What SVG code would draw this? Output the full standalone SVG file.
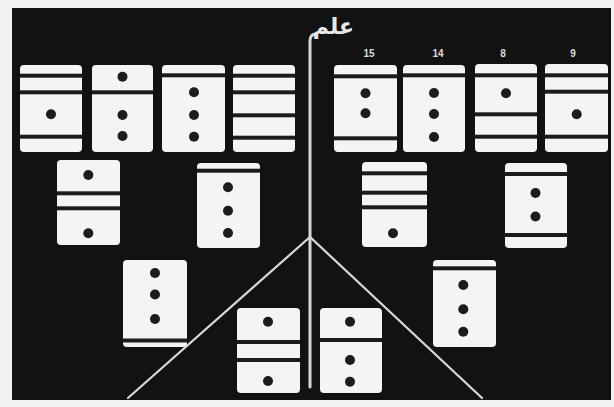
<svg xmlns="http://www.w3.org/2000/svg" width="614" height="407" viewBox="0 0 614 407">
<style>
.bg{fill:#121212}
.tile{fill:#f4f4f4}
.bar{fill:#1c1c1c}
.dot{fill:#1c1c1c}
.ln{stroke:#d8d8d8;fill:none;stroke-linecap:round}
.num{fill:#dcdcdc;font-family:"Liberation Sans",Arial,sans-serif;font-size:10px;font-weight:bold;text-anchor:middle}
.ar{fill:#e8e8e8;font-family:"DejaVu Sans",sans-serif;font-size:22px;font-weight:bold;text-anchor:end}
</style>
<rect x="0" y="0" width="614" height="407" fill="#f2f2f2"/>
<rect class="bg" x="12" y="8" width="599" height="392"/>
<g id="connectors">
<path class="ln" d="M310,387 V41 Q310,34 316,34" stroke-width="3"/>
<path class="ln" d="M128,398 L310,237 L482,398" stroke-width="2.2"/>
</g>
<text class="ar" x="354" y="34">علم</text>
<g id="t1"><rect class="tile" x="20" y="65" width="62" height="87" rx="4"/><rect class="bar" x="20" y="73.7" width="62" height="4"/><rect class="bar" x="20" y="90.3" width="62" height="4"/><circle class="dot" cx="51" cy="114.3" r="5"/><rect class="bar" x="20" y="134.7" width="62" height="4"/></g>
<g id="t2"><rect class="tile" x="92" y="65" width="61" height="87" rx="4"/><circle class="dot" cx="122.5" cy="76.7" r="5"/><rect class="bar" x="92" y="90.3" width="61" height="4"/><circle class="dot" cx="122.5" cy="115" r="5"/><circle class="dot" cx="122.5" cy="136" r="5"/></g>
<g id="t3"><rect class="tile" x="162" y="65" width="63" height="87" rx="4"/><rect class="bar" x="162" y="73.3" width="63" height="4"/><circle class="dot" cx="194" cy="92.3" r="5"/><circle class="dot" cx="194" cy="115" r="5"/><circle class="dot" cx="194" cy="136.7" r="5"/></g>
<g id="t4"><rect class="tile" x="233" y="65" width="62" height="87" rx="4"/><rect class="bar" x="233" y="73.7" width="62" height="4"/><rect class="bar" x="233" y="90.3" width="62" height="4"/><rect class="bar" x="233" y="113.3" width="62" height="4"/><rect class="bar" x="233" y="135.7" width="62" height="4"/></g>
<g id="t5"><text class="num" x="369" y="57">15</text><rect class="tile" x="334" y="65" width="63" height="87" rx="4"/><rect class="bar" x="334" y="74.3" width="63" height="4"/><circle class="dot" cx="365.5" cy="93.3" r="5"/><circle class="dot" cx="365.5" cy="113.3" r="5"/><rect class="bar" x="334" y="136.3" width="63" height="4"/></g>
<g id="t6"><text class="num" x="438" y="57">14</text><rect class="tile" x="403" y="65" width="62" height="87" rx="4"/><rect class="bar" x="403" y="73.3" width="62" height="4"/><circle class="dot" cx="434" cy="93" r="5"/><circle class="dot" cx="434" cy="114" r="5"/><circle class="dot" cx="434" cy="137" r="5"/></g>
<g id="t7"><text class="num" x="503" y="57">8</text><rect class="tile" x="475" y="64" width="62" height="88" rx="4"/><rect class="bar" x="475" y="73.3" width="62" height="4"/><circle class="dot" cx="506" cy="93.3" r="5"/><rect class="bar" x="475" y="112.3" width="62" height="4"/><rect class="bar" x="475" y="134.7" width="62" height="4"/></g>
<g id="t8"><text class="num" x="573" y="57">9</text><rect class="tile" x="545" y="64" width="63" height="88" rx="4"/><rect class="bar" x="545" y="73.3" width="63" height="4"/><rect class="bar" x="545" y="89.7" width="63" height="4"/><circle class="dot" cx="576.7" cy="114.3" r="5"/><rect class="bar" x="545" y="134.7" width="63" height="4"/></g>
<g id="t9"><rect class="tile" x="57" y="160" width="63" height="85" rx="4"/><circle class="dot" cx="88.3" cy="175" r="5"/><rect class="bar" x="57" y="191.3" width="63" height="4"/><rect class="bar" x="57" y="206.3" width="63" height="4"/><circle class="dot" cx="88.3" cy="233.3" r="5"/></g>
<g id="t10"><rect class="tile" x="197" y="163" width="63" height="85" rx="4"/><rect class="bar" x="197" y="168.7" width="63" height="4"/><circle class="dot" cx="228" cy="187.3" r="5"/><circle class="dot" cx="228" cy="210.7" r="5"/><circle class="dot" cx="228" cy="233" r="5"/></g>
<g id="t11"><rect class="tile" x="362" y="162" width="65" height="85" rx="4"/><rect class="bar" x="362" y="171.3" width="65" height="4"/><rect class="bar" x="362" y="190.7" width="65" height="4"/><rect class="bar" x="362" y="205.3" width="65" height="4"/><circle class="dot" cx="393" cy="233.3" r="5"/></g>
<g id="t12"><rect class="tile" x="505" y="163" width="62" height="85" rx="4"/><rect class="bar" x="505" y="172" width="62" height="4"/><circle class="dot" cx="535.5" cy="193" r="5"/><circle class="dot" cx="535.5" cy="216.5" r="5"/><rect class="bar" x="505" y="233" width="62" height="4"/></g>
<g id="t13"><rect class="tile" x="123" y="260" width="64" height="87" rx="4"/><circle class="dot" cx="155" cy="273" r="5"/><circle class="dot" cx="155" cy="294.5" r="5"/><circle class="dot" cx="155" cy="319" r="5"/><rect class="bar" x="123" y="338.5" width="64" height="4"/></g>
<g id="t14"><rect class="tile" x="433" y="260" width="63" height="87" rx="4"/><rect class="bar" x="433" y="266.3" width="63" height="4"/><circle class="dot" cx="463.3" cy="285" r="5"/><circle class="dot" cx="463.3" cy="309.3" r="5"/><circle class="dot" cx="463.3" cy="331.7" r="5"/></g>
<g id="t15"><rect class="tile" x="237" y="308" width="63" height="85" rx="4"/><circle class="dot" cx="268" cy="321.7" r="5"/><rect class="bar" x="237" y="340" width="63" height="4"/><rect class="bar" x="237" y="358" width="63" height="4"/><circle class="dot" cx="268" cy="381" r="5"/></g>
<g id="t16"><rect class="tile" x="320" y="308" width="62" height="85" rx="4"/><circle class="dot" cx="350" cy="321.7" r="5"/><rect class="bar" x="320" y="338" width="62" height="4"/><circle class="dot" cx="350" cy="360" r="5"/><circle class="dot" cx="350" cy="381.7" r="5"/></g>
</svg>
